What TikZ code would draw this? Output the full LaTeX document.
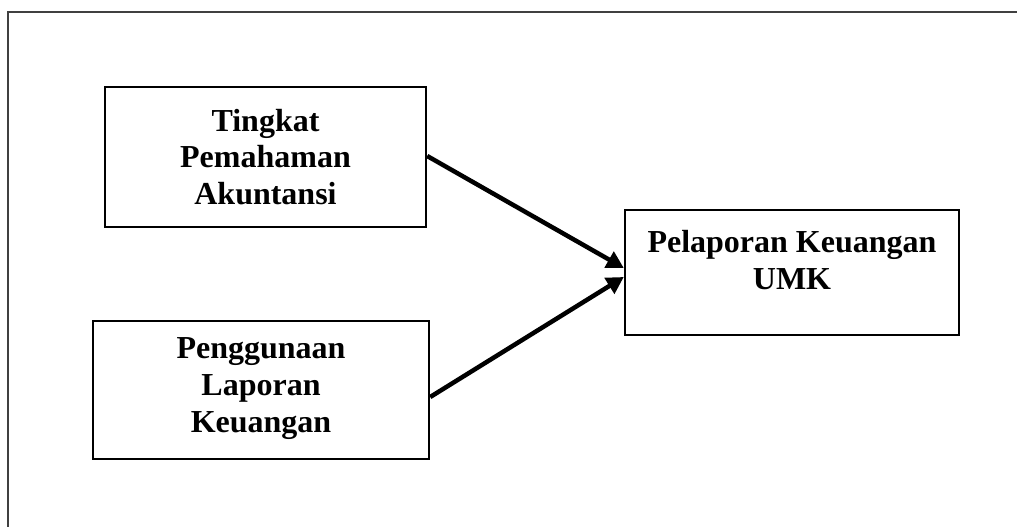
\documentclass[tikz,border=0pt]{standalone}
\usepackage{fontspec}
\setmainfont{Liberation Serif}
\usetikzlibrary{arrows.meta}
\begin{document}
\begin{tikzpicture}[x=1pt,y=-1pt,
  box/.style={draw=black, line width=2.4pt, inner sep=0pt},
  txt/.style={align=center, font=\fontsize{32}{36.7}\selectfont\bfseries, inner sep=0pt},
  arr/.style={line width=4.5pt, -{Triangle[length=17pt,width=18pt]}},
  frameline/.style={draw=black!75, line width=1.6pt}]
\useasboundingbox (0,0) rectangle (1017,527);
\coordinate (ftop) at (1017,12);
\coordinate (fcorner) at (8,12);
\coordinate (fbottom) at (8,527);
\draw[frameline] (ftop) -- (fcorner) -- (fbottom);
\node[box, minimum width=321pt, minimum height=140pt] (a) at (265.5,157) {};
\node[txt] (at) at (265.5,157) {Tingkat\\Pemahaman\\Akuntansi};
\node[box, minimum width=336pt, minimum height=138pt] (b) at (261,390) {};
\node[txt] (bt) at (261,388.5) {Penggunaan\\Laporan\\Keuangan};
\node[box, minimum width=334pt, minimum height=125pt] (c) at (792,272.5) {};
\node[txt] (ct) at (792,260) {Pelaporan Keuangan\\UMK};
\draw[arr] ([yshift=1pt]a.east) -- ([yshift=4.5pt]c.west);
\draw[arr] ([yshift=-7pt]b.east) -- ([yshift=-4.5pt]c.west);
\end{tikzpicture}
\end{document}
